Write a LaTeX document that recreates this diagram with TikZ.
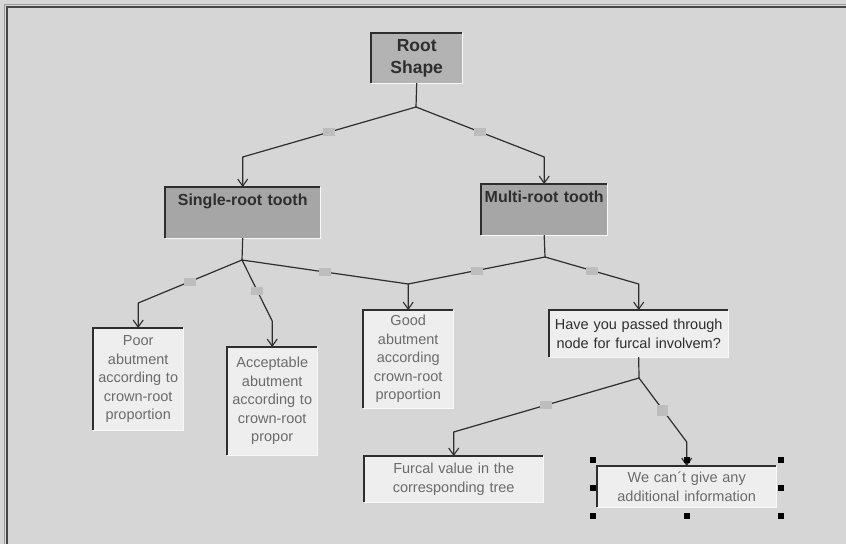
\documentclass[tikz,border=0pt]{standalone}
\usepackage{fontspec}
\setmainfont{Liberation Sans}
\usepackage{xcolor}
\usepackage{tikz}
\usetikzlibrary{arrows.meta}
\definecolor{bg}{HTML}{D6D6D6}
\definecolor{frame}{HTML}{474747}
\definecolor{framelite}{HTML}{9C9C9C}
\definecolor{rootfill}{HTML}{B3B3B3}
\definecolor{midfill}{HTML}{A6A6A6}
\definecolor{leaffill}{HTML}{EEEEEE}
\definecolor{dark}{HTML}{2E2E2E}
\definecolor{lite}{HTML}{F8F8F8}
\definecolor{greytext}{HTML}{6B6B6B}
\definecolor{tagfill}{HTML}{BDBDBD}
\tikzset{
  box/.style={rectangle, anchor=north west, inner sep=0pt, align=center},
  rootbox/.style={box, fill=rootfill, text=dark, font=\fontsize{17.5}{22}\selectfont\bfseries},
  midbox/.style={box, fill=midfill, text=dark, font=\fontsize{16}{19}\selectfont\bfseries, text height=18pt, text depth=33pt},
  leaf/.style={box, fill=leaffill, text=greytext, font=\fontsize{14.5}{18.5}\selectfont},
  ask/.style={leaf, text=dark},
  link/.style={draw=dark, line width=1.2pt, line cap=round, line join=round},
  tip/.style={link, -{Straight Barb[length=7pt,width=10pt,line width=1.1pt]}},
  tag/.style={fill=tagfill, inner sep=0pt, minimum width=12pt, minimum height=8pt},
  bigtag/.style={tag, minimum width=11pt, minimum height=11pt},
  hilite/.style={draw=dark, line width=2.4pt},
  shade/.style={draw=lite, line width=1.6pt},
}

\begin{document}
\begin{tikzpicture}[x=1pt, y=-1pt]
  \useasboundingbox (0,0) rectangle (846,544);
  \fill[bg] (0,0) rectangle (846,544);
  \draw[framelite, line width=1pt] (4.5,544) -- (4.5,4.5) -- (846,4.5);
  \draw[frame, line width=2pt] (6.5,544) -- (6.5,6.5) -- (846,6.5);

  \node[rootbox, text width=91pt, minimum height=50pt] (root) at (371,33) {Root\\Shape};
  \node[midbox, text width=155pt] (single) at (165,187) {Single-root tooth};
  \node[midbox, text width=126pt] (multi) at (481,184) {Multi-root tooth};
  \node[leaf, text width=90pt, minimum height=102pt] (poor) at (93,328)
    {Poor\\abutment\\according to\\crown-root\\proportion};
  \node[leaf, text width=90pt, minimum height=108pt] (accept) at (227,347)
    {Acceptable\\abutment\\according to\\crown-root\\propor};
  \node[leaf, text width=90pt, minimum height=98pt] (good) at (363,310)
    {Good\\abutment\\according\\crown-root\\proportion};
  \node[ask, text width=179pt, minimum height=47pt] (ask) at (549,310)
    {Have you passed through\\node for furcal involvem?};
  \node[leaf, text width=179pt, minimum height=46pt] (furcal) at (364,456)
    {Furcal value in the\\corresponding tree};
  \node[leaf, text width=179pt, minimum height=41pt] (nomore) at (597,466)
    {We can´t give any\\additional information};

  \foreach \n in {root,single,multi,poor,accept,good,ask,furcal,nomore}{
    \draw[shade] (\n.south west) -- (\n.south east) -- (\n.north east);
    \draw[hilite] (\n.south west) -- (\n.north west) -- (\n.north east);
  }

  \coordinate (rootJ) at (416,107);
  \coordinate (singleJ) at (242,260);
  \coordinate (multiJ) at (545,257);
  \coordinate (askJ) at (639,378);

  \draw[link] (root.south) -- (rootJ);
  \draw[tip] (rootJ) -- node[tag] (tRootL) {} ([yshift=30pt]single.north) -- (single.north);
  \draw[tip] (rootJ) -- node[tag] (tRootR) {} ([yshift=27pt]multi.north) -- (multi.north);

  \draw[link] (single.south) -- (singleJ);
  \draw[tip] (singleJ) -- node[tag] (tPoor) {} ([yshift=25pt]poor.north) -- (poor.north);
  \draw[tip] (singleJ) -- node[tag] (tAccept) {} ([yshift=26pt]accept.north) -- (accept.north);
  \draw[tip] (singleJ) -- node[tag] (tGood) {} ([yshift=26pt]good.north) -- (good.north);

  \draw[link] (multi.south) -- (multiJ);
  \draw[link] (multiJ) -- node[tag] (tGoodR) {} ([yshift=26pt]good.north);
  \draw[tip] (multiJ) -- node[tag] (tAsk) {} ([yshift=26pt]ask.north) -- (ask.north);

  \draw[link] (ask.south) -- (askJ);
  \draw[tip] (askJ) -- node[tag] (tFurcal) {} ([yshift=24pt]furcal.north) -- (furcal.north);
  \draw[tip] (askJ) -- node[bigtag] (tNomore) {} ([yshift=24pt]nomore.north) -- (nomore.north);

  \foreach \x/\y in {593/460, 687/460, 781/460, 593/488, 781/488, 593/516, 687/516, 781/516}
    \fill[black] (\x-3,\y-3) rectangle (\x+3,\y+3);
\end{tikzpicture}
\end{document}
